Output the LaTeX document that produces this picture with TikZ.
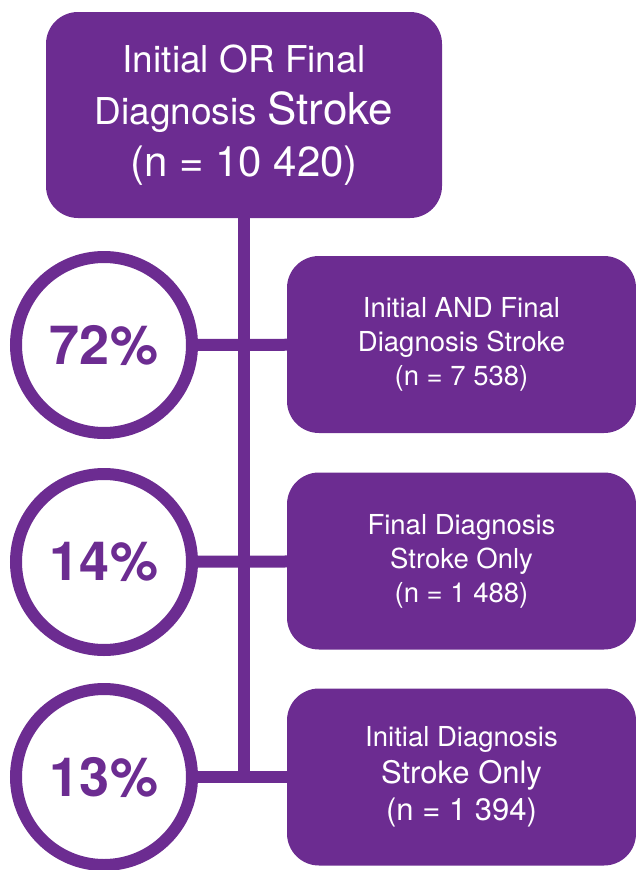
\documentclass[tikz,border=0pt]{standalone}
\usepackage{fontspec}
\setmainfont{TeX Gyre Heros}
\definecolor{StrokePurple}{RGB}{108, 44, 145}
\usetikzlibrary{positioning}

\begin{document}
\begin{tikzpicture}[x=1pt, y=-1pt]
        % --- Styles ---
        \tikzstyle{groupbox}=[rectangle, rounded corners=32pt, fill=StrokePurple, text=white, align=center, inner sep=0pt]
        \tikzstyle{subbox}=[groupbox, minimum width=349pt, minimum height=177pt, font=\fontsize{27.5}{34}\selectfont]
        \tikzstyle{pctring}=[circle, draw=StrokePurple, line width=12pt, fill=white, minimum size=176pt, inner sep=0pt, text=StrokePurple, font=\bfseries\fontsize{54}{54}\selectfont]
        \tikzstyle{link}=[StrokePurple, line width=12pt]

        \useasboundingbox (0,0) rectangle (635,870);

        % --- 1. All patients ---
        \node[groupbox, minimum width=396pt, minimum height=206pt, font=\fontsize{37}{52}\selectfont] (total) at (244,115)
            {Initial OR Final\\Diagnosis {\fontsize{44}{52}\selectfont Stroke}\\{\fontsize{42}{52}\selectfont (n = 10 420)}};

        % --- 2. Sub-groups ---
        \node[subbox] (both) at (461.5,344.5) {Initial AND Final\\Diagnosis Stroke\\(n = 7 538)};
        \node[subbox] (final) at (461.5,561) {Final Diagnosis\\Stroke Only\\(n = 1 488)};
        \node[subbox, font=\fontsize{27.5}{37}\selectfont] (initial) at (461.5,777)
            {Initial Diagnosis\\{\fontsize{31}{37}\selectfont Stroke Only}\\{\fontsize{31}{37}\selectfont (n = 1 394)}};

        % --- 3. Percentages ---
        \node[pctring] (pboth) at (104,345) {72\%};
        \node[pctring] (pfinal) at (104,562) {14\%};
        \node[pctring] (pinitial) at (104,777) {13\%};

        % --- 4. Connectors ---
        \coordinate (trunkend) at (total.south |- pinitial);
        \draw[link] (total.south) -- (trunkend);
        \draw[link] (pboth) -- (both);
        \draw[link] (pfinal) -- (final);
        \draw[link] (pinitial) -- (initial);

    \end{tikzpicture}
\end{document}
